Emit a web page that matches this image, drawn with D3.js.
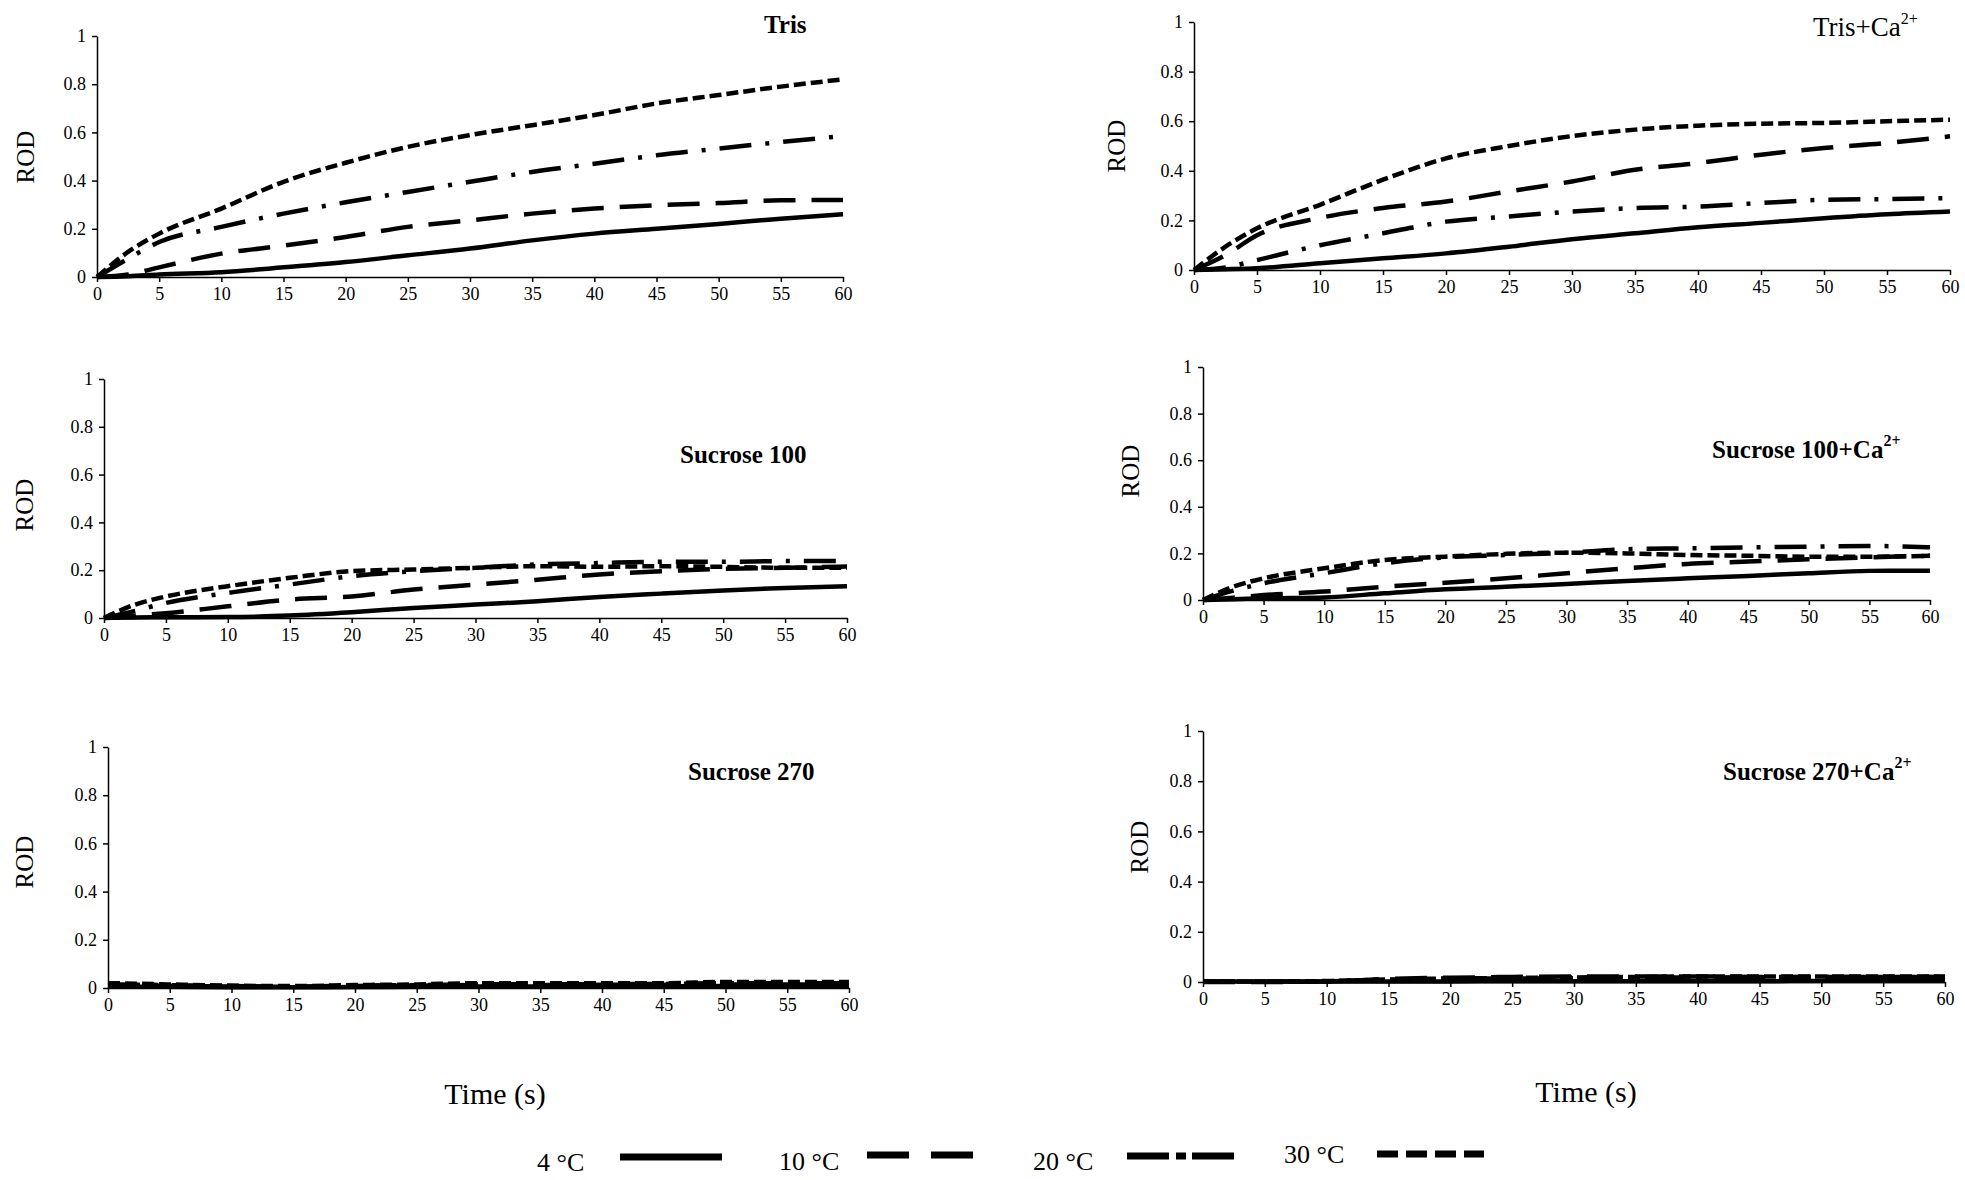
<!DOCTYPE html>
<html>
<head>
<meta charset="utf-8">
<script src="https://cdn.jsdelivr.net/npm/d3@7"></script>
<style>
  body { margin: 0; background: #fff; }
  text { font-family: "Liberation Serif", "Times New Roman", serif; fill: #000; }
</style>
</head>
<body>
<svg id="chart" width="1965" height="1180"></svg>
<script>
// time points (s) the curves were read at
const times = [0, 2.5, 5, 10, 15, 20, 25, 30, 35, 40, 45, 50, 55, 60];
const temps = ["4 °C", "10 °C", "20 °C", "30 °C"];
const xTicks = [0, 5, 10, 15, 20, 25, 30, 35, 40, 45, 50, 55, 60];
const yTicks = [0, 0.2, 0.4, 0.6, 0.8, 1];

// ROD values, one row per temperature (4, 10, 20, 30 °C)
const rodTris = [
    [0, 0.003, 0.01, 0.02, 0.04, 0.062, 0.09, 0.118, 0.152, 0.18, 0.2, 0.22, 0.242, 0.26],
    [0, 0.01, 0.04, 0.097, 0.13, 0.166, 0.208, 0.235, 0.263, 0.284, 0.298, 0.307, 0.318, 0.32],
    [0, 0.076, 0.145, 0.208, 0.263, 0.31, 0.353, 0.395, 0.436, 0.47, 0.505, 0.533, 0.56, 0.585],
    [0, 0.104, 0.18, 0.284, 0.395, 0.474, 0.54, 0.589, 0.63, 0.672, 0.72, 0.755, 0.79, 0.82]
];
const rodTrisCa = [
    [0, 0.003, 0.007, 0.027, 0.047, 0.067, 0.094, 0.124, 0.148, 0.172, 0.19, 0.209, 0.225, 0.236],
    [0, 0.06, 0.14, 0.21, 0.25, 0.276, 0.317, 0.357, 0.404, 0.431, 0.465, 0.492, 0.512, 0.539],
    [0, 0.01, 0.04, 0.1, 0.148, 0.195, 0.216, 0.236, 0.25, 0.256, 0.27, 0.283, 0.286, 0.29],
    [0, 0.094, 0.168, 0.263, 0.364, 0.45, 0.5, 0.54, 0.566, 0.582, 0.59, 0.593, 0.6, 0.606]
];
const rodSuc100 = [
    [0, 0.002, 0.003, 0.004, 0.01, 0.024, 0.042, 0.056, 0.07, 0.088, 0.102, 0.115, 0.126, 0.133],
    [0, 0.01, 0.02, 0.049, 0.077, 0.09, 0.119, 0.14, 0.16, 0.182, 0.196, 0.206, 0.21, 0.215],
    [0, 0.03, 0.063, 0.105, 0.14, 0.175, 0.196, 0.21, 0.224, 0.23, 0.235, 0.235, 0.238, 0.238],
    [0, 0.056, 0.09, 0.133, 0.168, 0.196, 0.203, 0.21, 0.217, 0.214, 0.217, 0.214, 0.21, 0.21]
];
const rodSuc100Ca = [
    [0, 0.003, 0.007, 0.011, 0.029, 0.046, 0.057, 0.069, 0.082, 0.093, 0.103, 0.115, 0.125, 0.126],
    [0, 0.01, 0.021, 0.036, 0.057, 0.074, 0.093, 0.115, 0.136, 0.155, 0.165, 0.175, 0.183, 0.19],
    [0, 0.04, 0.072, 0.115, 0.158, 0.183, 0.193, 0.203, 0.218, 0.222, 0.226, 0.229, 0.232, 0.226],
    [0, 0.057, 0.093, 0.136, 0.172, 0.186, 0.198, 0.203, 0.2, 0.193, 0.19, 0.186, 0.186, 0.19]
];
const rodSuc270 = [
    [0.005, 0.005, 0.005, 0.003, 0.003, 0.004, 0.005, 0.006, 0.006, 0.007, 0.007, 0.008, 0.008, 0.008],
    [0.01, 0.01, 0.009, 0.006, 0.005, 0.008, 0.01, 0.012, 0.012, 0.013, 0.013, 0.015, 0.015, 0.015],
    [0.015, 0.014, 0.012, 0.008, 0.006, 0.01, 0.012, 0.015, 0.016, 0.016, 0.017, 0.02, 0.02, 0.02],
    [0.02, 0.018, 0.015, 0.01, 0.008, 0.012, 0.015, 0.02, 0.02, 0.02, 0.02, 0.025, 0.025, 0.025]
];
const rodSuc270Ca = [
    [0.002, 0.002, 0.002, 0.002, 0.002, 0.002, 0.003, 0.003, 0.003, 0.003, 0.003, 0.004, 0.004, 0.004],
    [0, 0, 0, 0.002, 0.012, 0.017, 0.02, 0.022, 0.022, 0.022, 0.02, 0.02, 0.02, 0.02],
    [0.002, 0.002, 0.002, 0.003, 0.008, 0.012, 0.014, 0.015, 0.017, 0.018, 0.019, 0.02, 0.02, 0.02],
    [0.002, 0.002, 0.002, 0.004, 0.01, 0.014, 0.016, 0.018, 0.02, 0.022, 0.022, 0.022, 0.022, 0.022]
];

// line styles for the plots and for the legend
const plotDash = ["none", "32,16", "32,14,4,14", "12,5"];
const legendDash = ["none", "42,22", "42,7,10,6,42", "21,8"];

const panels = [
    { name: "Tris", sup: "", bold: true, size: 25, values: rodTris,
      left: 97, right: 843, top: 36, bottom: 277, rod: [25, 157], tx: 764, ty: 33 },
    { name: "Tris+Ca", sup: "2+", bold: false, size: 27, values: rodTrisCa,
      left: 1194, right: 1950, top: 22, bottom: 270, rod: [1116, 146], tx: 1813, ty: 36 },
    { name: "Sucrose 100", sup: "", bold: true, size: 25, values: rodSuc100,
      left: 104, right: 847, top: 379, bottom: 618, rod: [24, 505], tx: 680, ty: 463 },
    { name: "Sucrose 100+Ca", sup: "2+", bold: true, size: 25, values: rodSuc100Ca,
      left: 1203, right: 1930, top: 367, bottom: 600, rod: [1130, 471], tx: 1712, ty: 458 },
    { name: "Sucrose 270", sup: "", bold: true, size: 25, values: rodSuc270,
      left: 108, right: 849, top: 747, bottom: 988, rod: [24, 862], tx: 688, ty: 780 },
    { name: "Sucrose 270+Ca", sup: "2+", bold: true, size: 25, values: rodSuc270Ca,
      left: 1203, right: 1945, top: 731, bottom: 982, rod: [1139, 847], tx: 1723, ty: 780 }
];

const svg = d3.select("#chart");

panels.forEach(p => {
    const x = d3.scaleLinear().domain([0, 60]).range([p.left, p.right]);
    const y = d3.scaleLinear().domain([0, 1]).range([p.bottom, p.top]);
    const g = svg.append("g").attr("class", "panel");

    const yAxis = g.append("g")
        .attr("transform", `translate(${p.left},0)`)
        .call(d3.axisLeft(y).tickValues(yTicks).tickFormat(d => String(d))
            .tickSize(5).tickSizeOuter(0).tickPadding(6));
    const xAxis = g.append("g")
        .attr("transform", `translate(0,${p.bottom})`)
        .call(d3.axisBottom(x).tickValues(xTicks).tickSize(5).tickSizeOuter(0).tickPadding(5));

    [yAxis, xAxis].forEach(a => {
        a.selectAll("path, line").attr("stroke", "#000").attr("stroke-width", 1.5);
        a.selectAll("text").style("font-size", "18px")
            .style("font-family", "'Liberation Serif', serif");
    });

    // ROD label
    g.append("text")
        .attr("transform", `translate(${p.rod[0]},${p.rod[1]}) rotate(-90)`)
        .attr("text-anchor", "middle")
        .attr("dy", "0.35em")
        .style("font-size", "25px")
        .text("ROD");

    // panel title
    const t = g.append("text")
        .attr("x", p.tx)
        .attr("y", p.ty)
        .style("font-size", p.size + "px")
        .style("font-weight", p.bold ? "bold" : "normal");
    t.append("tspan").text(p.name);
    if (p.sup) {
        t.append("tspan").attr("dy", -12).style("font-size", "16px").text(p.sup);
    }

    const line = d3.line()
        .x(d => x(d[0]))
        .y(d => y(d[1]))
        .curve(d3.curveMonotoneX);

    p.values.forEach((row, i) => {
        g.append("path")
            .attr("d", line(times.map((tm, j) => [tm, row[j]])))
            .attr("fill", "none")
            .attr("stroke", "#000")
            .attr("stroke-width", 4.5)
            .attr("stroke-dasharray", plotDash[i]);
    });
});

// axis titles
[[495, 1093], [1586, 1091]].forEach(pos => {
    svg.append("text")
        .attr("x", pos[0]).attr("y", pos[1])
        .attr("text-anchor", "middle")
        .attr("dy", "0.35em")
        .style("font-size", "30px")
        .text("Time (s)");
});

// legend
const legendText = [537, 779, 1033, 1284];
const legendTextY = [1171, 1170, 1170, 1163];
const legendLine = [[620, 722], [867, 973], [1127, 1234], [1377, 1484]];
const legendLineY = [1157, 1155, 1156, 1154];

temps.forEach((label, i) => {
    svg.append("text")
        .attr("x", legendText[i]).attr("y", legendTextY[i])
        .style("font-size", "26px")
        .text(label);
    svg.append("line")
        .attr("x1", legendLine[i][0]).attr("x2", legendLine[i][1])
        .attr("y1", legendLineY[i]).attr("y2", legendLineY[i])
        .attr("stroke", "#000")
        .attr("stroke-width", 7)
        .attr("stroke-dasharray", legendDash[i]);
});
</script>
</body>
</html>
